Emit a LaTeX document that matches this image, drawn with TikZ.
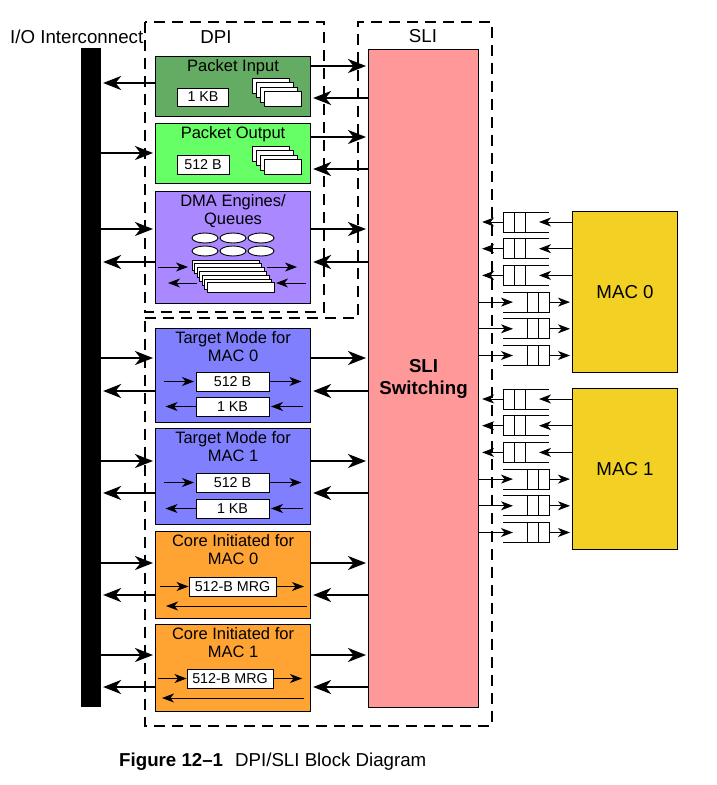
\documentclass[tikz,border=0pt]{standalone}
\usepackage{fontspec}
\setmainfont{Liberation Sans}
\usetikzlibrary{arrows.meta}
\definecolor{pinclr}{HTML}{64AB64}
\definecolor{poutclr}{HTML}{66FF66}
\definecolor{dmaclr}{HTML}{AA88FF}
\definecolor{tgtclr}{HTML}{8080FF}
\definecolor{coreclr}{HTML}{FFA333}
\definecolor{slipink}{HTML}{FF9999}
\definecolor{macclr}{HTML}{F2D024}
\newcommand\bigfnt{\fontsize{18.7}{22}\selectfont}
\newcommand\midfnt{\fontsize{16.5}{18}\selectfont}
\newcommand\smlfnt{\fontsize{14.3}{16}\selectfont}

\begin{document}
\begin{tikzpicture}[x=1pt,y=-1pt,
    blk/.style={draw, line width=1.1pt, anchor=north west, inner sep=0pt},
    unit/.style={blk, minimum width=155pt},
    membox/.style={draw, fill=white, line width=0.9pt, inner sep=0pt, minimum height=19pt, font=\smlfnt},
    ttl/.style={anchor=north, inner sep=0pt, align=center, font=\midfnt},
    hdr/.style={inner sep=0pt, font=\bigfnt},
    bigarr/.style={line width=2.5pt, -{Stealth[length=18pt,width=14pt,inset=5.5pt]}, shorten >=2pt},
    thinarr/.style={line width=1pt, -{Stealth[length=12pt,width=9pt,inset=3.5pt]}},
    dashbox/.style={line width=1.3pt, dash pattern=on 11pt off 7pt}]
\useasboundingbox (0,0) rectangle (716,785);

\draw[dashbox] (145,22) rectangle (324,312);
\draw[dashbox] (145,318) -- (358,318) -- (358,22) -- (492,22) -- (492,726) -- (145,726) -- cycle;

\node[hdr, anchor=base west] (io) at (10,43) {I/O Interconnect};
\node[hdr, anchor=base] (dpi) at (216,43) {DPI};
\node[hdr, anchor=base] (slihdr) at (423,42) {SLI};

\node[blk, fill=black, minimum width=19pt, minimum height=658pt] (bar) at (81,48) {};
\node[blk, fill=slipink, minimum width=110pt, minimum height=658pt, align=center, font=\bigfnt\bfseries] (sli) at (368,49) {SLI\\Switching};

\node[unit, fill=pinclr, minimum height=60pt] (pin) at (155,56) {};
\node[unit, fill=poutclr, minimum height=60pt] (pout) at (155,123) {};
\node[unit, fill=dmaclr, minimum height=112pt] (dma) at (155,191) {};
\node[unit, fill=tgtclr, minimum height=94pt] (tm0) at (155,328) {};
\node[unit, fill=tgtclr, minimum height=96pt] (tm1) at (155,428) {};
\node[unit, fill=coreclr, minimum height=87pt] (ci0) at (155,531) {};
\node[unit, fill=coreclr, minimum height=87pt] (ci1) at (155,624) {};

\node[ttl] (pinttl) at ([yshift=-3.5pt]pin.north) {Packet Input};
\node[ttl] (poutttl) at ([yshift=-3.5pt]pout.north) {Packet Output};
\node[ttl] (dmattl) at ([yshift=-3.5pt]dma.north) {DMA Engines/\\Queues};
\node[ttl] (tm0ttl) at ([yshift=-3.5pt]tm0.north) {Target Mode for\\MAC 0};
\node[ttl] (tm1ttl) at ([yshift=-3.5pt]tm1.north) {Target Mode for\\MAC 1};
\node[ttl] (ci0ttl) at ([yshift=-3.5pt]ci0.north) {Core Initiated for\\MAC 0};
\node[ttl] (ci1ttl) at ([yshift=-3.5pt]ci1.north) {Core Initiated for\\MAC 1};

\node[membox, minimum width=51pt, minimum height=18pt] (pinbuf) at (203,97) {1 KB};
\node[membox, minimum width=52pt] (poutbuf) at (203,164.5) {512 B};
\foreach \i in {0,...,3} {
  \draw[fill=white, line width=0.9pt] (252+4.3*\i,78+4.5*\i) rectangle ++(37,15);
  \draw[fill=white, line width=0.9pt] (252+4.3*\i,146+4.5*\i) rectangle ++(37,15);
}

\foreach \x in {205,233,261}
  \foreach \y in {238,251}
    \draw[fill=white, line width=0.9pt] (\x,\y) ellipse [x radius=13, y radius=5];
\foreach \i in {0,...,6}
  \draw[fill=white, line width=0.9pt] (192+2.5*\i,260+3.8*\i) rectangle ++(67,10);
\draw[thinarr] (158,267) -- (188,267);
\draw[thinarr] (267,267) -- (297,267);
\draw[thinarr] (197,283) -- (168,283);
\draw[thinarr] (306,283) -- (276,283);

\node[membox, minimum width=73pt] (tm0tx) at (232.5,381.5) {512 B};
\node[membox, minimum width=73pt] (tm0rx) at (232.5,406.5) {1 KB};
\node[membox, minimum width=73pt] (tm1tx) at (232.5,482.5) {512 B};
\node[membox, minimum width=73pt] (tm1rx) at (232.5,508.5) {1 KB};
\foreach \t in {tm0,tm1} {
  \draw[thinarr, shorten >=1.5pt] (\t tx.west) ++(-32,0) -- (\t tx.west);
  \draw[thinarr] (\t tx.east) -- ++(32,0);
  \draw[thinarr] (\t rx.west) -- ++(-30,0);
  \draw[thinarr, shorten >=1.5pt] (\t rx.east) ++(34,0) -- (\t rx.east);
}

\node[membox, minimum width=87pt] (ci0buf) at (232.5,586.5) {512-B MRG};
\node[membox, minimum width=86pt] (ci1buf) at (230,678.5) {512-B MRG};
\draw[thinarr] (160,586.5) -- (ci0buf.west);
\draw[thinarr] (ci0buf.east) -- (304,586.5);
\draw[thinarr] (307,606) -- (166,606);
\draw[thinarr] (158,678.5) -- (ci1buf.west);
\draw[thinarr] (ci1buf.east) -- (302,678.5);
\draw[thinarr] (304,698) -- (162,698);

\draw[bigarr] (pin.west |- 0,83) -- (bar.east |- 0,83);
\draw[bigarr] (pin.east |- 0,66) -- (sli.west |- 0,66);
\draw[bigarr] (sli.west |- 0,98) -- (pin.east |- 0,98);
\draw[bigarr] (bar.east |- 0,153) -- (pout.west |- 0,153);
\draw[bigarr] (pout.east |- 0,137) -- (sli.west |- 0,137);
\draw[bigarr] (sli.west |- 0,169) -- (pout.east |- 0,169);
\foreach \u/\a/\b in {dma/229/262, tm0/358/391, tm1/461/493, ci0/563/595, ci1/655/687} {
  \draw[bigarr] (bar.east |- 0,\a) -- (\u.west |- 0,\a);
  \draw[bigarr] (\u.west |- 0,\b) -- (bar.east |- 0,\b);
  \draw[bigarr] (\u.east |- 0,\a) -- (sli.west |- 0,\a);
  \draw[bigarr] (sli.west |- 0,\b) -- (\u.east |- 0,\b);
}

\node[blk, fill=macclr, minimum width=105pt, minimum height=161pt, font=\bigfnt] (mac0) at (572,211) {MAC 0};
\node[blk, fill=macclr, minimum width=105pt, minimum height=161pt, font=\bigfnt] (mac1) at (572,388) {MAC 1};
\foreach \m/\top in {mac0/222, mac1/399} {
  \foreach \k in {0,1,2} {
    \pgfmathsetmacro\yc{\top+26.7*\k}
    \draw[thinarr] (\m.west |- 0,\yc) -- (539,\yc);
    \draw[line width=1pt] (549,\yc-10) -- (503,\yc-10) -- (503,\yc+10) -- (549,\yc+10)
      (514,\yc-10) -- (514,\yc+10) (525,\yc-10) -- (525,\yc+10);
    \draw[thinarr, shorten >=3pt] (503,\yc) -- (sli.east |- 0,\yc);
  }
  \foreach \k in {3,4,5} {
    \pgfmathsetmacro\yc{\top+26.7*\k}
    \draw[thinarr] (sli.east |- 0,\yc) -- (513,\yc);
    \draw[line width=1pt] (503,\yc-10) -- (549,\yc-10) -- (549,\yc+10) -- (503,\yc+10)
      (527,\yc-10) -- (527,\yc+10) (538,\yc-10) -- (538,\yc+10);
    \draw[thinarr, shorten >=2pt] (549,\yc) -- (\m.west |- 0,\yc);
  }
}

\node[hdr, anchor=base west] (cap) at (119,766) {\textbf{Figure 12–1}\hspace{12pt}DPI/SLI Block Diagram};
\end{tikzpicture}
\end{document}
